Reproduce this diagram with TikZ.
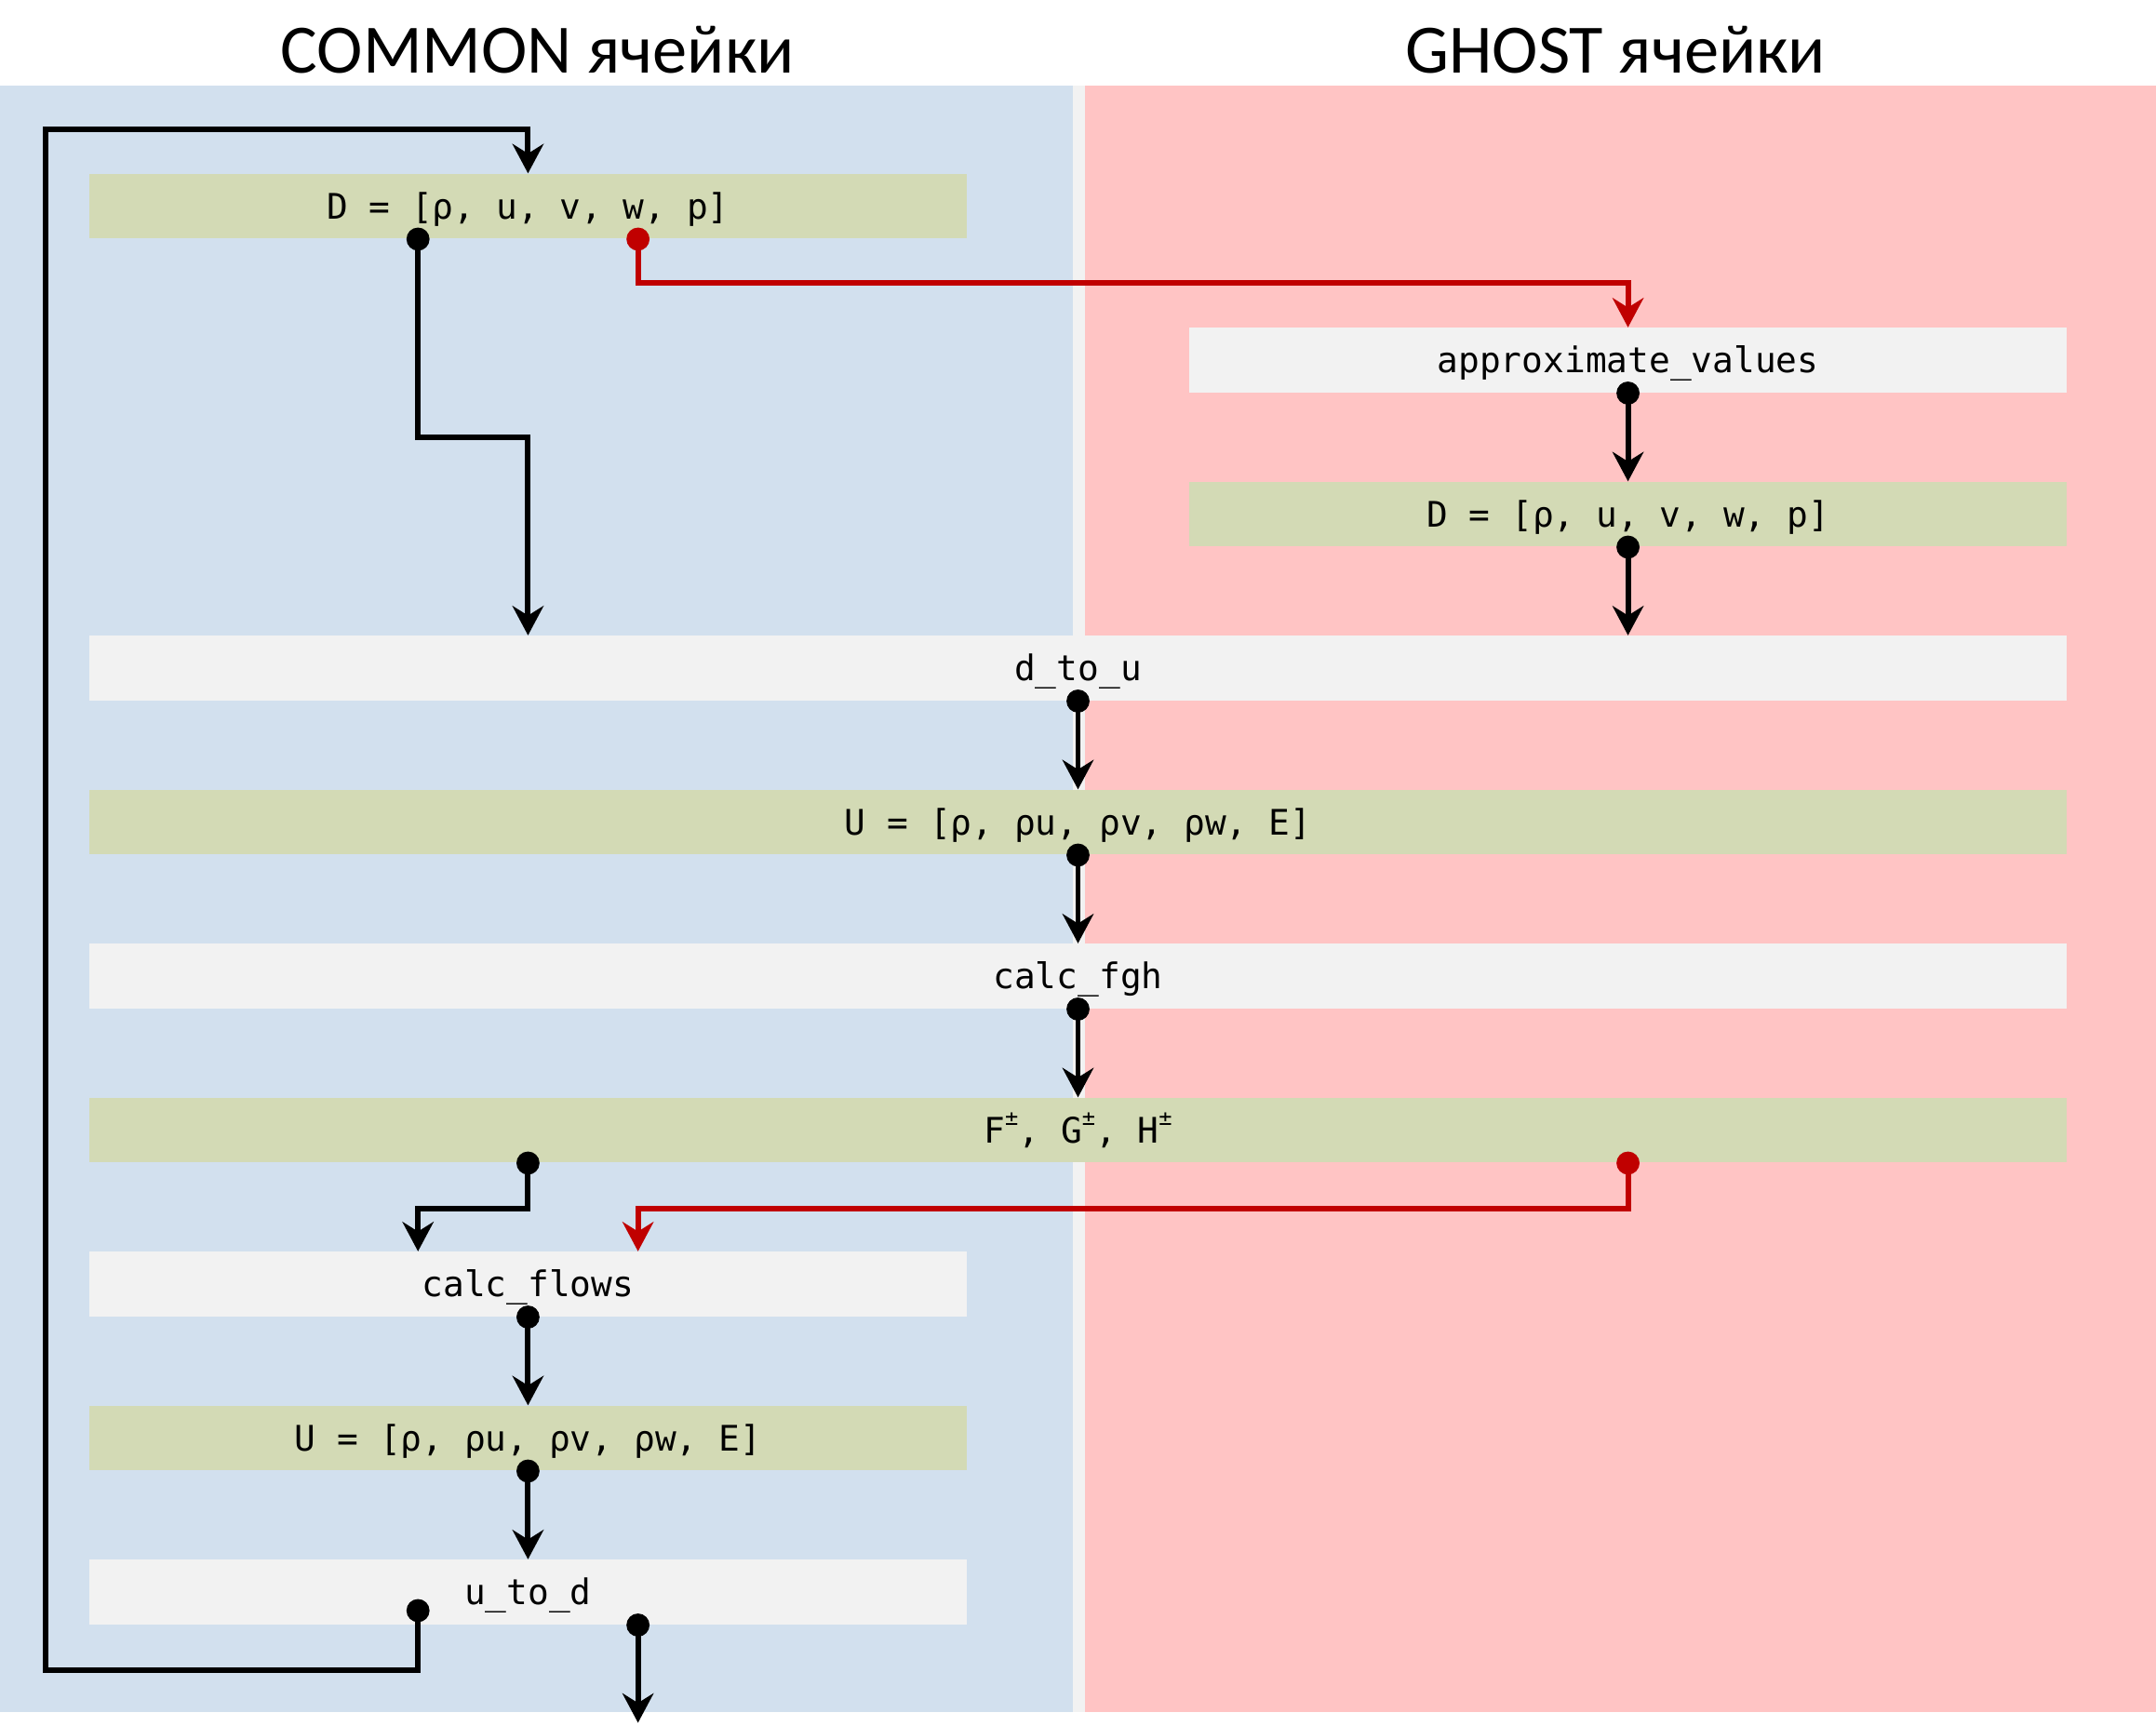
\documentclass[tikz,border=0pt]{standalone}
\usepackage{fontspec}
\setmainfont{Carlito}
\newfontfamily\monof{DejaVu Sans Mono}
\usetikzlibrary{arrows.meta}
\definecolor{bluebg}{HTML}{D2E0EE}
\definecolor{pinkbg}{HTML}{FFC4C4}
\definecolor{greenbox}{HTML}{D3DAB5}
\definecolor{graybox}{HTML}{F2F2F2}
\definecolor{redline}{HTML}{C00000}
\newcommand{\pmsup}{\raisebox{6.4pt}{\fontsize{8}{8}\selectfont ±}}
\begin{document}
\begin{tikzpicture}[x=0.5pt,y=-0.5pt,
  box/.style={rectangle, inner sep=0pt, minimum height=23.5pt, text height=9.3pt, text depth=0pt, font=\monof\fontsize{12.8}{14}\selectfont},
  narrow/.style={box, minimum width=319pt},
  wide/.style={box, minimum width=719pt},
  gbox/.style={fill=greenbox},
  wbox/.style={fill=graybox},
  title/.style={font=\fontsize{25.2}{30}\selectfont, anchor=base, inner sep=0pt},
  conn/.style={line width=2pt, -{Stealth[length=10.7pt,width=11.3pt,inset=3.5pt]}},
  redconn/.style={conn, draw=redline, color=redline}]
\useasboundingbox (0,0) rectangle (1568,1254.7);
\fill[white] (0,0) rectangle (1568,1254.7);
% panels
\fill[graybox] (0,62) rectangle (1568,1245);
\fill[bluebg] (0,62) rectangle (780,1245);
\fill[pinkbg] (789,62) rectangle (1568,1245);
% titles
\node[title] (tl) at (391,53) {COMMON ячейки};
\node[title] (tr) at (1175,53) {GHOST ячейки};
% boxes
\node[narrow, gbox] (D1) at (384,150) {D = [ρ, u, v, w, p]};
\node[narrow, wbox] (approx) at (1184,262) {approximate\_values};
\node[narrow, gbox] (D2) at (1184,374) {D = [ρ, u, v, w, p]};
\node[wide, wbox] (dtu) at (784,486) {d\_to\_u};
\node[wide, gbox] (U1) at (784,598) {U = [ρ, ρu, ρv, ρw, E]};
\node[wide, wbox] (fgh) at (784,710) {calc\_fgh};
\node[wide, gbox] (FGH) at (784,822) {F\pmsup, G\pmsup, H\pmsup};
\node[narrow, wbox] (cf) at (384,934) {calc\_flows};
\node[narrow, gbox] (U2) at (384,1046) {U = [ρ, ρu, ρv, ρw, E]};
\node[narrow, wbox] (utd) at (384,1158) {u\_to\_d};
% helper coordinates
\coordinate (a1) at ([xshift=-40pt]D1.south);
\coordinate (r1) at ([xshift=40pt]D1.south);
\coordinate (ta) at ([xshift=-200pt]dtu.north);
\coordinate (tb) at ([xshift=200pt]dtu.north);
\coordinate (fa) at ([xshift=-200pt]FGH.south);
\coordinate (fb) at ([xshift=200pt]FGH.south);
\coordinate (ca) at ([xshift=-40pt]cf.north);
\coordinate (cb) at ([xshift=40pt]cf.north);
\coordinate (ls) at ([xshift=-40pt,yshift=5.25pt]utd.south);
\coordinate (ue) at ([xshift=40pt]utd.south);
\coordinate (out) at (464,1253);
\coordinate (lv1) at (0,318);
\coordinate (lv2) at (0,206);
\coordinate (lv3) at (0,879);
\coordinate (lb) at (33,1215);
\coordinate (lt) at (33,94);
% connectors
\draw[conn] (ls) |- (lb) -- (lt) -| (D1.north);
\draw[conn] (a1) -- (a1 |- lv1) -| (ta);
\draw[redconn] (r1) -- (r1 |- lv2) -| (approx.north);
\draw[conn] (approx.south) -- (D2.north);
\draw[conn] (D2.south) -- (tb);
\draw[conn] (dtu.south) -- (U1.north);
\draw[conn] (U1.south) -- (fgh.north);
\draw[conn] (fgh.south) -- (FGH.north);
\draw[conn] (fa) -- (fa |- lv3) -| (ca);
\draw[redconn] (fb) -- (fb |- lv3) -| (cb);
\draw[conn] (cf.south) -- (U2.north);
\draw[conn] (U2.south) -- (utd.north);
\draw[conn] (ue) -- (out);
% dots
\foreach \p in {a1, approx.south, D2.south, dtu.south, U1.south, fgh.south, fa, cf.south, U2.south, ls, ue}
  \fill[black] (\p) circle (4.2pt);
\foreach \p in {r1, fb}
  \fill[redline] (\p) circle (4.2pt);
\end{tikzpicture}
\end{document}
